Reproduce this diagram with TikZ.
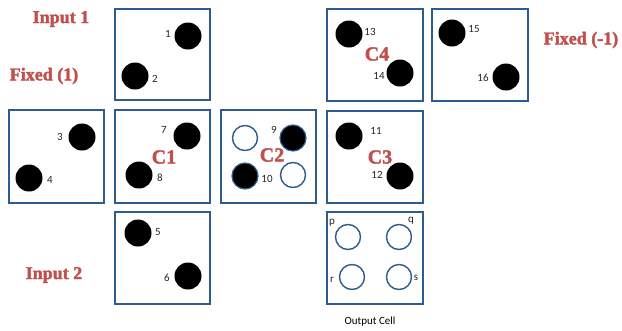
\documentclass[tikz,border=0pt]{standalone}
\usepackage{fontspec}
\setmainfont{Carlito}
\newfontfamily\titlefont[FakeBold=2]{Liberation Serif}
\begin{document}
\begin{tikzpicture}[x=1pt,y=-1pt,
  cellbox/.style={draw=cellblue,line width=1.8pt,inner sep=0pt},
  dot/.style={circle,fill=black,inner sep=0pt,minimum size=27pt},
  ring/.style={circle,draw=cellblue,line width=1.4pt,fill=white,inner sep=0pt,minimum size=25pt},
  ringdot/.style={circle,draw=cellblue,line width=1.2pt,fill=black,inner sep=0pt,minimum size=26pt},
  num/.style={font=\fontsize{11}{11}\selectfont,text=black!85,inner sep=0pt},
  title/.style={font=\titlefont\bfseries\fontsize{18}{18}\selectfont,text=titlered,inner sep=0pt},
  cname/.style={font=\titlefont\bfseries\fontsize{20}{20}\selectfont,text=titlered,inner sep=0pt}]
\definecolor{cellblue}{HTML}{2E5C8E}
\definecolor{titlered}{HTML}{C0504D}
\useasboundingbox (0,0) rectangle (622,330);

% cell frames
\draw[cellbox] (115,9) rectangle (210,100) coordinate (in1);
\draw[cellbox] (327,9) rectangle (423,101) coordinate (c4);
\draw[cellbox] (432,9) rectangle (528,101) coordinate (fxm);
\draw[cellbox] (9,110) rectangle (104,203) coordinate (fx1);
\draw[cellbox] (115,110) rectangle (210,203) coordinate (c1);
\draw[cellbox] (221,110) rectangle (316,203) coordinate (c2);
\draw[cellbox] (327,111) rectangle (423,203) coordinate (c3);
\draw[cellbox] (115,212) rectangle (210,304) coordinate (in2);
\draw[cellbox] (327,212) rectangle (423,304) coordinate (out);

% side titles
\node[title] (tin1) at (61,19) {Input 1};
\node[title] (tfx1) at (44,76) {Fixed (1)};
\node[title] (tfxm) at (581,40) {Fixed (-1)};
\node[title] (tin2) at (54,275) {Input 2};

% Input 1
\node[dot] (d1) at (188,36) {};
\node[num] (n1) at (168,34) {1};
\node[dot] (d2) at (135,76) {};
\node[num] (n2) at (155,79) {2};

% C4
\node[dot] (d13) at (349,34) {};
\node[num] (n13) at (370,32) {13};
\node[dot] (d14) at (400,73) {};
\node[num] (n14) at (379,76) {14};
\node[cname] (lc4) at (377,54) {C4};

% Fixed (-1)
\node[dot] (d15) at (452,33) {};
\node[num] (n15) at (474,29) {15};
\node[dot] (d16) at (506,77) {};
\node[num] (n16) at (483,78) {16};

% Fixed (1)
\node[dot] (d3) at (82,137) {};
\node[num] (n3) at (60,137) {3};
\node[dot] (d4) at (29,178) {};
\node[num] (n4) at (50,180) {4};

% C1
\node[dot] (d7) at (187,136) {};
\node[num] (n7) at (164,130) {7};
\node[dot] (d8) at (139,175) {};
\node[num] (n8) at (160,178) {8};
\node[cname] (lc1) at (164,157) {C1};

% C2
\node[ring] (r2a) at (245,138) {};
\node[ringdot] (d9) at (293,138) {};
\node[num] (n9) at (274,130) {9};
\node[ringdot] (d10) at (245,176) {};
\node[num] (n10) at (267,179) {10};
\node[ring] (r2b) at (293,175) {};
\node[cname] (lc2) at (272,155) {C2};

% C3
\node[dot] (d11) at (349,136) {};
\node[num] (n11) at (376,131) {11};
\node[dot] (d12) at (400,176) {};
\node[num] (n12) at (377,175) {12};
\node[cname] (lc3) at (380,157) {C3};

% Input 2
\node[dot] (d5) at (138,233) {};
\node[num] (n5) at (158,232) {5};
\node[dot] (d6) at (188,276) {};
\node[num] (n6) at (167,278) {6};

% output cell
\node[ring] (rp) at (348,237) {};
\node[ring] (rq) at (399,237) {};
\node[ring] (rr) at (352,277) {};
\node[ring] (rs) at (399,277) {};
\node[num] (lp) at (332,223) {p};
\node[num] (lq) at (411,221) {q};
\node[num] (lr) at (332,280) {r};
\node[num] (ls) at (416,278) {s};
\node[num,text=black] (lout) at (370,322) {Output Cell};
\end{tikzpicture}
\end{document}
